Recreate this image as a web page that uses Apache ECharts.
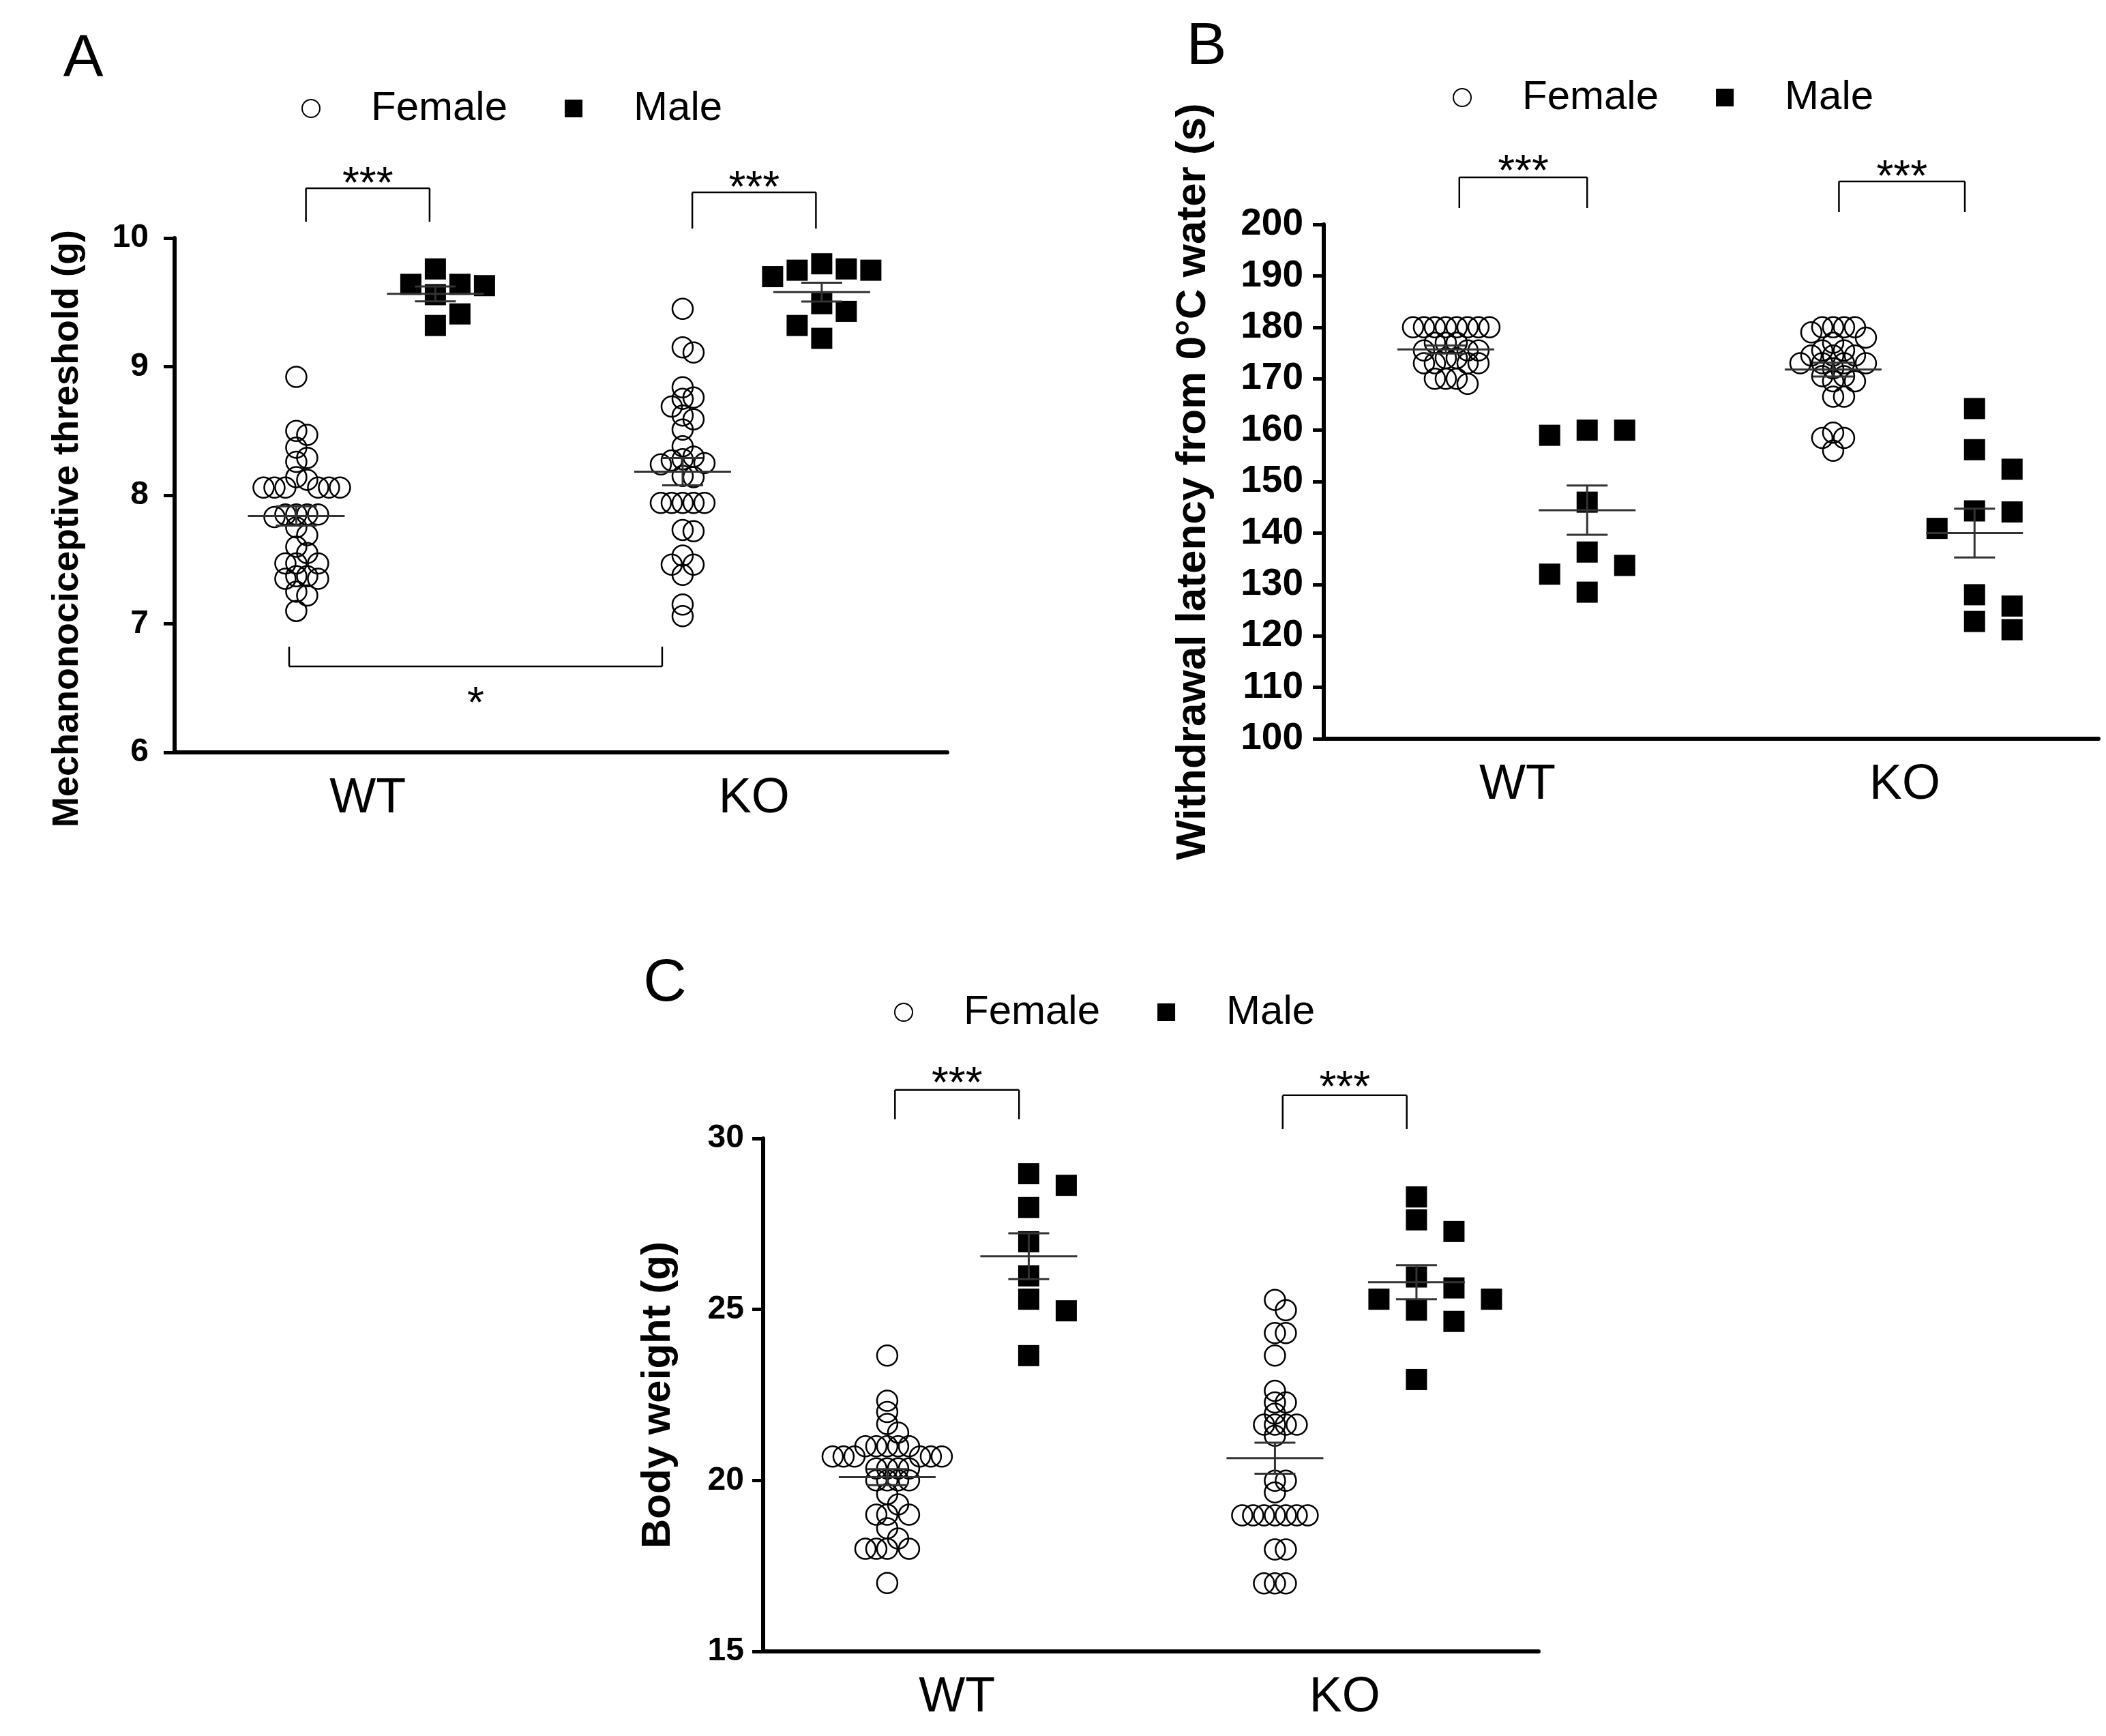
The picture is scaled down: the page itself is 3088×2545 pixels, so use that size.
<!DOCTYPE html>
<html>
<head>
<meta charset="utf-8">
<script src="https://cdn.jsdelivr.net/npm/echarts@6.0.0/dist/echarts.min.js"></script>
<style>
  html, body { margin: 0; padding: 0; background: #fff; }
  #main { width: 3088px; height: 2545px; }
</style>
</head>
<body>
<div id="main"></div>
<script>
// genotype groups, drawn at x = 1 and x = 3
var groups = ['WT', 'KO'];

// A - mechanonociceptive threshold (g)
var aWtFemale = [8.92, 8.50, 8.47, 8.37, 8.29, 8.26, 8.14, 8.12, 8.06, 8.06, 8.06, 8.06, 8.06, 8.06,
  7.85, 7.85, 7.85, 7.85, 7.83, 7.75, 7.69, 7.60, 7.55, 7.47, 7.47, 7.47, 7.37, 7.37, 7.35, 7.35,
  7.25, 7.22, 7.10];
var aWtMale = [9.76, 9.64, 9.64, 9.63, 9.56, 9.41, 9.32];
var aKoFemale = [9.45, 9.15, 9.11, 8.84, 8.76, 8.75, 8.69, 8.62, 8.59, 8.51, 8.38, 8.30, 8.28, 8.27,
  8.25, 8.24, 8.15, 8.14, 7.94, 7.94, 7.94, 7.94, 7.94, 7.73, 7.72, 7.53, 7.46, 7.46, 7.38, 7.15, 7.06];
var aKoMale = [9.80, 9.76, 9.75, 9.75, 9.70, 9.49, 9.43, 9.32, 9.22];

// B - withdrawal latency from 0°C water (s)
var bWtFemale = [180, 180, 180, 180, 180, 180, 180, 180, 177, 177, 177, 175.5, 175.5, 175.5,
  174, 174, 173, 173, 173, 173, 170, 170, 170, 169];
var bWtMale = [160, 160, 159, 146, 136.3, 133.7, 132, 128.5];
var bKoFemale = [180, 180, 180, 180, 179, 178, 177, 175.5, 175.5, 174.5, 174.5, 174.5, 173, 173,
  173, 173, 172, 170.5, 170.5, 169.5, 169.5, 166.5, 166.5, 159.5, 158.5, 158.5, 156];
var bKoMale = [164.2, 156.2, 152.4, 144.3, 144.1, 140.9, 128, 125.8, 122.8, 121.2];

// C - body weight (g)
var cWtFemale = [23.65, 22.33, 22.0, 21.65, 21.4, 21, 21, 21, 21, 21, 20.7, 20.7, 20.7, 20.7, 20.7,
  20.7, 20.35, 20.35, 20.35, 20.35, 20, 20, 20, 20, 19.6, 19.3, 19, 19, 19, 18.6, 18.3, 18, 18, 18,
  18, 17];
var cWtMale = [28.97, 28.63, 27.98, 26.98, 25.98, 25.30, 24.96, 23.65];
var cKoFemale = [25.28, 24.98, 24.31, 24.31, 23.65, 22.62, 22.28, 22.28, 21.95, 21.63, 21.63, 21.63,
  21.63, 21.31, 19.99, 19.99, 19.65, 18.98, 18.98, 18.98, 18.98, 18.98, 18.98, 18.98, 17.98, 17.98,
  16.99, 16.99, 16.99];
var cKoMale = [28.29, 27.62, 27.28, 25.95, 25.63, 25.30, 25.30, 24.98, 24.65, 22.95];

// y axis ranges / ticks
var aTicks = [6, 10, 1];
var bTicks = [100, 200, 10];
var cTicks = [15, 30, 5];

var FONT = '"Liberation Sans", Arial, sans-serif';

var panels = [
  {
    letter: 'A', letterPos: [122, 88],
    grid: { left: 256, top: 349, width: 1133, height: 754 },
    ticks: aTicks, fOff: 0.37, mOff: 0.35,
    female: [aWtFemale, aKoFemale], male: [aWtMale, aKoMale], maleStep: 36,
    name: 'Mechanonociceptive threshold (g)', nameSize: 54, nameGap: 130, nameShift: 98,
    labelMargin: 38, tickSize: 48,
    legend: { left: 442, top: 129 },
    brackets: [
      { x1: 0.68, x2: 1.32, top: 10.387, leg: 10.127, star: 10.49, text: '***' },
      { x1: 2.68, x2: 3.32, top: 10.355, leg: 10.074, star: 10.46, text: '***' },
      { x1: 0.593, x2: 2.524, top: 6.668, leg: 6.822, star: 6.45, text: '*' }
    ]
  },
  {
    letter: 'B', letterPos: [1769, 70],
    grid: { left: 1941, top: 329, width: 1136, height: 754 },
    ticks: bTicks, fOff: 0.37, mOff: 0.36,
    female: [bWtFemale, bKoFemale], male: [bWtMale, bKoMale], maleStep: 55,
    name: 'Withdrawal latency from 0°C water (s)', nameSize: 62, nameGap: 160, nameShift: 0,
    labelMargin: 30, tickSize: 55,
    legend: { left: 2130, top: 113 },
    brackets: [
      { x1: 0.70, x2: 1.36, top: 209.15, leg: 203.18, star: 212.07, text: '***' },
      { x1: 2.66, x2: 3.31, top: 208.36, leg: 202.39, star: 211.0, text: '***' }
    ]
  },
  {
    letter: 'C', letterPos: [975, 1443],
    grid: { left: 1119, top: 1669, width: 1137, height: 752 },
    ticks: cTicks, fOff: 0.36, mOff: 0.37,
    female: [cWtFemale, cKoFemale], male: [cWtMale, cKoMale], maleStep: 55,
    name: 'Body weight (g)', nameSize: 60, nameGap: 124, nameShift: 0,
    labelMargin: 28, tickSize: 48,
    legend: { left: 1311, top: 1454 },
    brackets: [
      { x1: 0.68, x2: 1.32, top: 31.42, leg: 30.56, star: 31.86, text: '***' },
      { x1: 2.68, x2: 3.32, top: 31.26, leg: 30.28, star: 31.74, text: '***' }
    ]
  }
];

// spread points sideways so they do not pile up (simple beeswarm in pixel space)
function swarm(values, center, pxX, pxY, step, minDist) {
  var order = values.map(function (v, i) { return i; })
    .sort(function (a, b) { return values[b] - values[a]; });
  var placed = [];
  var out = [];
  order.forEach(function (i) {
    var y = values[i] * pxY;
    var x = 0;
    for (var k = 0; k < 60; k++) {
      var col = k === 0 ? 0 : (k % 2 ? (k + 1) / 2 : -k / 2);
      x = col * step;
      var free = placed.every(function (p) {
        var dx = p[0] - x, dy = p[1] - y;
        return dx * dx + dy * dy >= minDist * minDist - 0.01;
      });
      if (free) break;
    }
    placed.push([x, y]);
    out.push([center + x / pxX, values[i]]);
  });
  return out;
}

function meanSem(v) {
  var n = v.length;
  var m = v.reduce(function (s, x) { return s + x; }, 0) / n;
  var ss = v.reduce(function (s, x) { return s + (x - m) * (x - m); }, 0);
  return [m, Math.sqrt(ss / (n - 1)) / Math.sqrt(n)];
}

var option = {
  animation: false,
  backgroundColor: '#fff',
  grid: [], xAxis: [], yAxis: [], legend: [], series: [], graphic: []
};

panels.forEach(function (p, gi) {
  var pxX = p.grid.width / 4;
  var pxY = p.grid.height / (p.ticks[1] - p.ticks[0]);

  option.grid.push(p.grid);
  option.xAxis.push({
    gridIndex: gi, type: 'value', min: 0, max: 4,
    axisLine: { onZero: false, lineStyle: { color: '#000', width: 6 } },
    axisTick: { show: false },
    splitLine: { show: false },
    axisLabel: {
      customValues: [1, 3],
      formatter: function (v) { return groups[Math.round((v - 1) / 2)]; },
      color: '#000', fontSize: 72, fontFamily: FONT, margin: 32
    }
  });
  option.yAxis.push({
    gridIndex: gi, type: 'value', min: p.ticks[0], max: p.ticks[1], interval: p.ticks[2],
    name: p.name, nameLocation: 'middle', nameGap: p.nameGap,
    nameTextStyle: {
      color: '#000', fontSize: p.nameSize, fontWeight: 'bold', fontFamily: FONT,
      padding: [0, p.nameShift, 0, 0]
    },
    axisLine: { show: true, onZero: false, lineStyle: { color: '#000', width: 6 } },
    axisTick: { show: true, length: 16, lineStyle: { color: '#000', width: 5 } },
    splitLine: { show: false },
    axisLabel: { color: '#000', fontSize: p.tickSize, fontWeight: 'bold', fontFamily: FONT, margin: p.labelMargin }
  });

  option.legend.push({
    left: p.legend.left, top: p.legend.top, padding: 0,
    itemWidth: 26, itemHeight: 26, itemGap: 84,
    data: [{ name: 'Female', icon: 'circle' }, { name: 'Male', icon: 'rect' }],
    textStyle: { color: '#000', fontSize: 60, fontFamily: FONT, padding: [0, 0, 0, 70] },
    selectedMode: false
  });

  var femaleData = [], maleData = [], stats = [];
  [0, 1].forEach(function (g) {
    var cx = 1 + 2 * g;
    femaleData = femaleData.concat(swarm(p.female[g], cx - p.fOff, pxX, pxY, 16, 16));
    maleData = maleData.concat(swarm(p.male[g], cx + p.mOff, pxX, pxY, p.maleStep, 33));
    stats.push([cx - p.fOff].concat(meanSem(p.female[g])));
    stats.push([cx + p.mOff].concat(meanSem(p.male[g])));
  });

  option.series.push({
    name: 'Female', type: 'scatter', xAxisIndex: gi, yAxisIndex: gi,
    symbol: 'circle', symbolSize: 30, data: femaleData,
    itemStyle: { color: 'rgba(255,255,255,0)', borderColor: '#000', borderWidth: 2.5, opacity: 1 },
    emphasis: { disabled: true }, z: 2
  });
  option.series.push({
    name: 'Male', type: 'scatter', xAxisIndex: gi, yAxisIndex: gi,
    symbol: 'rect', symbolSize: 31, data: maleData,
    itemStyle: { color: '#000', opacity: 1 },
    emphasis: { disabled: true }, z: 2
  });

  // mean ± SEM
  option.series.push({
    type: 'custom', xAxisIndex: gi, yAxisIndex: gi, z: 5, silent: true,
    encode: { x: 0, y: 1 },
    data: stats,
    renderItem: function (params, api) {
      var c = api.coord([api.value(0), api.value(1)]);
      var hi = api.coord([api.value(0), api.value(1) + api.value(2)]);
      var lo = api.coord([api.value(0), api.value(1) - api.value(2)]);
      var st = { stroke: '#333', lineWidth: 3 };
      return {
        type: 'group', children: [
          { type: 'line', shape: { x1: c[0] - 71, y1: c[1], x2: c[0] + 71, y2: c[1] }, style: st },
          { type: 'line', shape: { x1: c[0], y1: hi[1], x2: c[0], y2: lo[1] }, style: st },
          { type: 'line', shape: { x1: c[0] - 30, y1: hi[1], x2: c[0] + 30, y2: hi[1] }, style: st },
          { type: 'line', shape: { x1: c[0] - 30, y1: lo[1], x2: c[0] + 30, y2: lo[1] }, style: st }
        ]
      };
    }
  });

  // significance brackets
  option.series.push({
    type: 'custom', xAxisIndex: gi, yAxisIndex: gi, z: 6, silent: true, clip: false,
    encode: { x: 0, y: 2 },
    data: p.brackets.map(function (b) { return [b.x1, b.x2, b.top, b.leg, b.star]; }),
    renderItem: function (params, api) {
      var b = p.brackets[params.dataIndex];
      var a1 = api.coord([b.x1, b.top]);
      var a2 = api.coord([b.x2, b.top]);
      var l1 = api.coord([b.x1, b.leg]);
      var s = api.coord([(b.x1 + b.x2) / 2, b.star]);
      var st = { stroke: '#000', lineWidth: 2.5 };
      return {
        type: 'group', children: [
          { type: 'line', shape: { x1: a1[0], y1: a1[1], x2: a2[0], y2: a2[1] }, style: st },
          { type: 'line', shape: { x1: a1[0], y1: a1[1], x2: a1[0], y2: l1[1] }, style: st },
          { type: 'line', shape: { x1: a2[0], y1: a2[1], x2: a2[0], y2: l1[1] }, style: st },
          {
            type: 'text', x: s[0], y: s[1] + 16,
            style: { text: b.text, fontSize: 64, fontFamily: FONT, fill: '#000', align: 'center', verticalAlign: 'middle' }
          }
        ]
      };
    }
  });

  option.graphic.push({
    type: 'text', x: p.letterPos[0], y: p.letterPos[1],
    style: { text: p.letter, fontSize: 88, fontFamily: FONT, fill: '#000', align: 'center', verticalAlign: 'middle' }
  });
});

var chart = echarts.init(document.getElementById('main'), null, { renderer: 'canvas' });
chart.setOption(option);
</script>
</body>
</html>
